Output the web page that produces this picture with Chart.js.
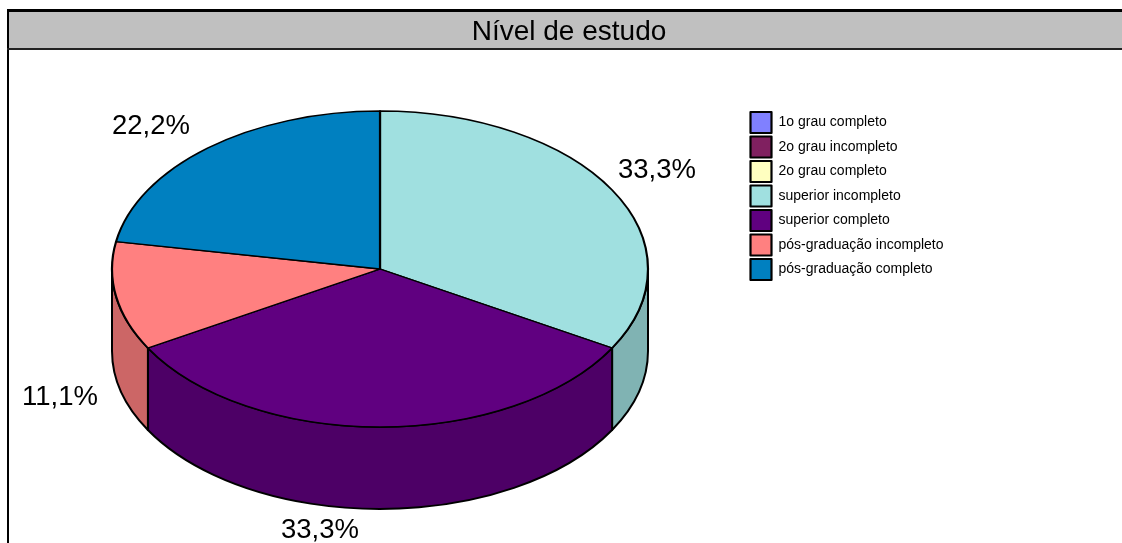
<!DOCTYPE html>
<html>
<head>
<meta charset="utf-8">
<script src="https://cdn.jsdelivr.net/npm/chart.js@4/dist/chart.umd.js"></script>
<style>
html,body{margin:0;padding:0;background:#fff;overflow:hidden}
#wrap{width:1122px;height:543px;position:relative}
</style>
</head>
<body>
<div id="wrap"><canvas id="c" width="1122" height="543"></canvas></div>
<script>
const categories = ["1o grau completo","2o grau incompleto","2o grau completo","superior incompleto","superior completo","pós-graduação incompleto","pós-graduação completo"];
const respondents = [0,0,0,3,3,1,2];
const sliceColors = ["#8080FF","#802060","#FFFFC0","#A0E0E0","#600080","#FF8080","#0080C0"];
const wallColors  = ["#6666CC","#661A4D","#CCCC9A","#80B3B3","#4D0066","#CC6666","#0066A0"];
const titleText = "Nível de estudo";
const labelOffsets = [null,null,null,[277,-99],[-60,261],[-320,128],[-229,-143]];

const FONT = "'Liberation Sans', Arial, sans-serif";
const TILT = 158/268, DEPTH = 82;

const pie3d = {
  id:'pie3d',
  beforeDraw(chart){
    const c = chart.ctx;
    c.save();
    c.fillStyle='#fff'; c.fillRect(0,0,1122,543);
    c.fillStyle='#C0C0C0'; c.fillRect(8,11,1114,38);
    c.fillStyle='#000';
    c.fillRect(7,9,1115,3);
    c.fillRect(7,9,2,534);
    c.fillStyle='#222';
    c.fillRect(7,48,1115,2);
    c.restore();
  },
  afterLayout(chart){
    chart.titleBlock.left = 16; chart.titleBlock.right = 1122;
    chart.legend.left = 747; chart.legend.top = 108.5;
    chart.legend.right = 1000; chart.legend.bottom = 300;
  },
  beforeDatasetsDraw(chart){
    const c = chart.ctx, arcs = chart.getDatasetMeta(0).data;
    arcs.forEach((a,i)=>{
      if(!respondents[i]) return;
      const s = Math.max(a.startAngle,0), e = Math.min(a.endAngle,Math.PI);
      if(e<=s) return;
      const rx=a.outerRadius, ry=rx*TILT;
      c.save();
      c.beginPath();
      c.ellipse(a.x,a.y,rx,ry,0,s,e);
      c.ellipse(a.x,a.y+DEPTH,rx,ry,0,e,s,true);
      c.closePath();
      c.fillStyle=wallColors[i]; c.fill();
      c.strokeStyle='#000'; c.lineWidth=2; c.lineJoin='round'; c.stroke();
      c.restore();
    });
    const a0 = arcs[3];
    c.save();
    c.translate(a0.x,a0.y); c.scale(1,TILT); c.translate(-a0.x,-a0.y);
  },
  afterDatasetsDraw(chart){
    const c = chart.ctx;
    c.restore();
    const a0 = chart.getDatasetMeta(0).data[3];
    const total = respondents.reduce((p,v)=>p+v,0);
    c.save();
    c.font = "27.5px "+FONT; c.fillStyle='#000'; c.textAlign='center'; c.textBaseline='middle';
    respondents.forEach((v,i)=>{
      if(!v) return;
      const t=(v/total*100).toFixed(1).replace('.',',')+'%';
      c.fillText(t,a0.x+labelOffsets[i][0],a0.y+labelOffsets[i][1]);
    });
    c.restore();
  }
};

new Chart(document.getElementById('c'),{
  type:'pie',
  data:{labels:categories,datasets:[{
    data:respondents,backgroundColor:sliceColors,borderColor:'#000',borderWidth:2.2,
    borderJoinStyle:'round',radius:268,clip:false
  }]},
  options:{
    responsive:false,animation:false,
    layout:{padding:{left:10,right:372,top:0,bottom:53.6}},
    plugins:{
      tooltip:{enabled:false},
      title:{display:true,text:titleText,color:'#000',font:{family:FONT,size:28,weight:'normal'},padding:{top:15,bottom:0}},
      legend:{display:true,position:'chartArea',align:'start',
        labels:{boxWidth:21,boxHeight:21,padding:3.5,color:'#000',font:{family:FONT,size:14}}}
    }
  },
  plugins:[pie3d]
});
</script>
</body>
</html>
